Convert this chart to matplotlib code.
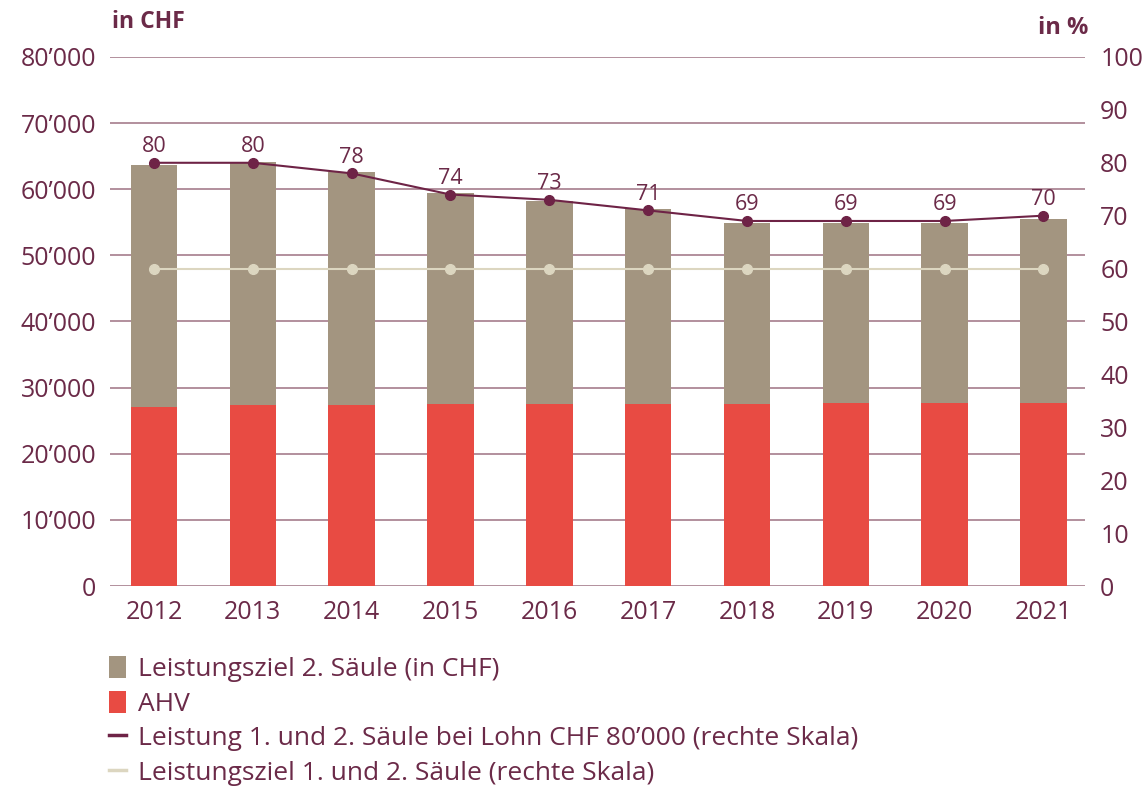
import numpy as np
import matplotlib
matplotlib.use("Agg")
import matplotlib.pyplot as plt
from matplotlib.patches import Patch
from matplotlib.lines import Line2D

plt.rcParams['font.family'] = ['Open Sans', 'DejaVu Sans']

years = ['2012', '2013', '2014', '2015', '2016', '2017', '2018', '2019', '2020', '2021']
ahv = [27100, 27300, 27300, 27500, 27500, 27500, 27500, 27700, 27700, 27700]
total = [63700, 64100, 62600, 59400, 58200, 57000, 54900, 54900, 54900, 55500]
saeule2 = [t - a for t, a in zip(total, ahv)]
leistung_pct = [80, 80, 78, 74, 73, 71, 69, 69, 69, 70]
ziel_pct = [60, 60, 60, 60, 60, 60, 60, 60, 60, 60]

txt = '#6b2a48'
grid_c = '#a57d8c'
red = '#e84b43'
beige = '#a39580'
maroon = '#6e2346'
ziel_c = '#dcd6c0'

fig = plt.figure(figsize=(11.47, 7.87), dpi=100)
ax = fig.add_axes([0.0959, 0.2554, 0.850, 0.6722])
x = np.arange(len(years))

ax.bar(x, ahv, width=0.47, color=red, zorder=2)
ax.bar(x, saeule2, bottom=ahv, width=0.47, color=beige, zorder=2)

ax.set_ylim(0, 80000)
ax.set_xlim(-0.445, 9.42)
ax.set_yticks(np.arange(0, 80001, 10000))
ax.set_yticklabels(['0' if v == 0 else "{}\u2019000".format(v // 1000) for v in range(0, 80001, 10000)])
ax.set_xticks(x)
ax.set_xticklabels(years)
ax.grid(axis='y', color=grid_c, linewidth=1.2, zorder=0)
ax.set_axisbelow(True)
for s in ax.spines.values():
    s.set_visible(False)
ax.tick_params(axis='both', length=0, labelsize=18, colors=txt)
ax.tick_params(axis='y', pad=10)
ax.tick_params(axis='x', pad=10)

ax2 = ax.twinx()
ax2.set_ylim(0, 100)
ax2.set_yticks(np.arange(0, 101, 10))
for s in ax2.spines.values():
    s.set_visible(False)
ax2.tick_params(axis='y', length=0, labelsize=18, colors=txt, pad=11)

ax2.plot(x, ziel_pct, color=ziel_c, linewidth=1.5, marker='o', markersize=7, zorder=3)
ax2.plot(x, leistung_pct, color=maroon, linewidth=1.5, marker='o', markersize=7, zorder=4)
for xi, v in zip(x, leistung_pct):
    ax2.annotate(str(v), (xi, v), xytext=(0, 4), textcoords='offset points',
                 ha='center', va='bottom', fontsize=15.5, color=txt)

fig.text(0.098, 0.972, 'in CHF', fontsize=16.5, fontweight='bold', color=txt, ha='left', va='center')
fig.text(0.949, 0.964, 'in %', fontsize=17, fontweight='bold', color=txt, ha='right', va='center')

handles = [
    Patch(facecolor=beige, edgecolor='none'),
    Patch(facecolor=red, edgecolor='none'),
    Line2D([0], [0], color=maroon, linewidth=2.5),
    Line2D([0], [0], color=ziel_c, linewidth=2.5),
]
labels = [
    'Leistungsziel 2. Säule (in CHF)',
    'AHV',
    'Leistung 1. und 2. Säule bei Lohn CHF 80\u2019000 (rechte Skala)',
    'Leistungsziel 1. und 2. Säule (rechte Skala)',
]
leg = fig.legend(handles, labels, loc='upper left', bbox_to_anchor=(0.095, 0.166),
                 frameon=False, fontsize=19, handlelength=0.65, handleheight=0.9,
                 handletextpad=0.45, labelspacing=0.32, borderaxespad=0, borderpad=0)
for t in leg.get_texts():
    t.set_color(txt)

fig.savefig('out.png', dpi=100)
